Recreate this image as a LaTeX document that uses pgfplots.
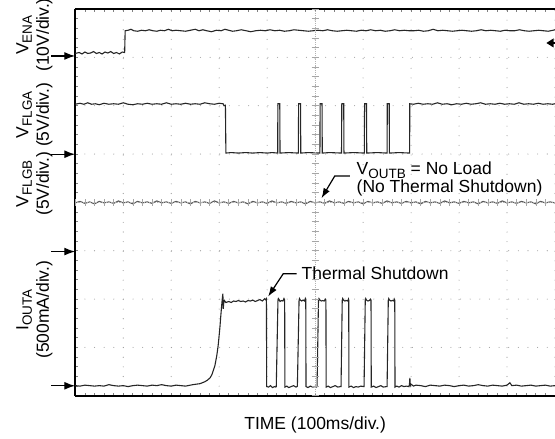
\documentclass[border=0pt]{standalone}
\usepackage{pgfplots}
\pgfplotsset{compat=1.18}
\usepackage{fontspec}
\setmainfont{Liberation Sans}
\usetikzlibrary{arrows.meta}
\newcommand{\sub}[1]{\raisebox{-0.19em}{\fontsize{13.5}{14}\selectfont #1}}

\begin{document}
\begin{tikzpicture}[x=1pt,y=1pt,font=\fontsize{17.5}{21}\selectfont]
\path[use as bounding box] (-75.3,-43) rectangle (480,396);
\begin{axis}[at={(0,0)}, anchor=south west, scale only axis,
  width=480pt, height=387pt,
  xmin=0, xmax=10, ymin=0, ymax=8,
  axis x line=box, axis y line=left,
  axis line style={line width=1.6pt,-},
  x axis line style={-}, y axis line style={-},
  xtick={0,...,10}, ytick={0,...,8},
  minor x tick num=4, minor y tick num=4,
  xticklabels={}, yticklabels={},
  tick align=inside, major tick length=3pt, minor tick length=3pt,
  tick style={gray, line width=0.7pt},
  grid=major,
  major grid style={line width=1.1pt, line cap=round, dash pattern=on 0pt off 9.6375pt, color=gray!75},
  clip=false]

% V_ENA
\addplot[black!85, line width=1.1pt] coordinates {
(0.00,7.08)(0.08,7.10)(0.14,7.07)(0.20,7.11)(0.26,7.08)(0.32,7.09)(0.38,7.12)(0.44,7.08)(0.50,7.10)(0.56,7.07)
(0.62,7.11)(0.68,7.09)(0.74,7.12)(0.80,7.08)(0.86,7.10)(0.92,7.07)(0.98,7.11)(1.03,7.10)(1.04,7.55)(1.10,7.56)
(1.16,7.58)(1.22,7.55)(1.30,7.54)(1.38,7.56)(1.46,7.55)(1.54,7.57)(1.62,7.55)(1.70,7.54)(1.78,7.56)(1.86,7.55)
(1.94,7.58)(2.02,7.55)(2.10,7.56)(2.20,7.55)(2.30,7.54)(2.40,7.56)(2.50,7.58)(2.58,7.55)(2.66,7.57)(2.74,7.55)
(2.84,7.53)(2.94,7.56)(3.04,7.55)(3.12,7.58)(3.20,7.56)(3.28,7.54)(3.36,7.55)(3.46,7.57)(3.56,7.55)(3.66,7.53)
(3.76,7.55)(3.86,7.56)(3.96,7.55)(4.06,7.57)(4.16,7.55)(4.26,7.56)(4.36,7.54)(4.46,7.55)(4.56,7.57)(4.66,7.56)
(4.76,7.55)(4.86,7.54)(4.96,7.55)(5.06,7.56)(5.16,7.55)(5.26,7.57)(5.36,7.55)(5.46,7.54)(5.56,7.55)(5.66,7.56)
(5.76,7.55)(5.86,7.54)(5.96,7.56)(6.06,7.55)(6.16,7.57)(6.26,7.55)(6.36,7.56)(6.46,7.54)(6.56,7.55)(6.66,7.57)
(6.76,7.55)(6.86,7.56)(6.96,7.55)(7.06,7.55)(7.16,7.56)(7.26,7.54)(7.36,7.55)(7.46,7.58)(7.56,7.55)(7.66,7.56)
(7.76,7.55)(7.86,7.54)(7.96,7.55)(8.06,7.56)(8.16,7.55)(8.26,7.54)(8.36,7.55)(8.46,7.57)(8.56,7.55)(8.66,7.56)
(8.76,7.55)(8.86,7.54)(8.96,7.56)(9.06,7.55)(9.16,7.55)(9.26,7.57)(9.36,7.55)(9.46,7.54)(9.56,7.55)(9.66,7.56)
(9.76,7.55)(9.86,7.54)(9.96,7.56)(10.0,7.57)
};

% V_FLGA
\addplot[black!85, line width=1.1pt] coordinates {
(0.00,6.03)(0.10,6.05)(0.18,6.03)(0.26,6.06)(0.34,6.03)(0.42,6.04)(0.50,6.02)(0.60,6.05)(0.70,6.03)(0.80,6.04)
(0.90,6.03)(1.00,6.06)(1.10,6.03)(1.20,6.02)(1.30,6.04)(1.40,6.03)(1.50,6.05)(1.60,6.03)(1.70,6.04)(1.80,6.03)
(1.90,6.06)(2.00,6.03)(2.10,6.04)(2.20,6.03)(2.30,6.05)(2.40,6.03)(2.50,6.04)(2.60,6.03)(2.70,6.06)(2.80,6.04)
(2.90,6.03)(3.00,6.05)(3.08,6.04)(3.10,6.00)(3.13,6.01)(3.14,5.02)(3.25,5.03)(3.40,5.02)(3.55,5.03)(3.70,5.02)
(3.85,5.03)(4.00,5.02)(4.10,5.03)(4.22,5.02)
(4.223,6.04)(4.263,6.04)(4.268,5.02)(4.45,5.03)(4.65,5.02)
(4.656,6.04)(4.696,6.04)(4.701,5.02)(4.85,5.03)(5.10,5.02)
(5.104,6.04)(5.144,6.04)(5.149,5.02)(5.30,5.03)(5.55,5.02)
(5.556,6.04)(5.596,6.04)(5.601,5.02)(5.80,5.03)(6.025,5.02)
(6.031,6.04)(6.071,6.04)(6.076,5.02)(6.30,5.03)(6.50,5.02)
(6.504,6.04)(6.544,6.04)(6.549,5.02)(6.75,5.03)(6.97,5.02)
(6.973,6.04)(7.05,6.03)(7.15,6.05)(7.25,6.03)(7.35,6.04)(7.45,6.03)(7.55,6.06)(7.65,6.03)(7.75,6.04)(7.85,6.02)
(7.95,6.04)(8.05,6.03)(8.15,6.05)(8.25,6.03)(8.35,6.04)(8.45,6.06)(8.55,6.03)(8.65,6.04)(8.75,6.03)(8.85,6.05)
(8.95,6.03)(9.05,6.04)(9.15,6.03)(9.25,6.06)(9.35,6.03)(9.45,6.04)(9.55,6.03)(9.65,6.05)(9.75,6.03)(9.85,6.04)
(9.95,6.03)(10.0,6.04)
};

% V_FLGB
\addplot[black!65, line width=1.1pt] coordinates {
(0.0,3.99)(0.1,4.02)(0.2,3.98)(0.3,4.01)(0.4,3.97)(0.5,4.02)(0.6,3.99)(0.7,4.01)(0.8,3.98)(0.9,4.03)
(1.0,3.99)(1.1,4.01)(1.2,3.97)(1.3,4.02)(1.4,3.99)(1.5,4.01)(1.6,3.98)(1.7,4.03)(1.8,3.99)(1.9,4.01)
(2.0,3.98)(2.1,4.02)(2.2,3.99)(2.3,4.01)(2.4,3.97)(2.5,4.02)(2.6,3.99)(2.7,4.01)(2.8,3.98)(2.9,4.03)
(3.0,3.99)(3.1,4.01)(3.2,3.98)(3.3,4.02)(3.4,3.99)(3.5,4.01)(3.6,3.97)(3.7,4.02)(3.8,3.99)(3.9,4.01)
(4.0,3.98)(4.1,4.03)(4.2,3.99)(4.3,4.01)(4.4,3.98)(4.5,4.02)(4.6,3.99)(4.7,4.01)(4.8,3.97)(4.9,4.02)
(5.0,3.99)(5.1,4.01)(5.2,3.98)(5.3,4.03)(5.4,3.99)(5.5,4.01)(5.6,3.98)(5.7,4.02)(5.8,3.99)(5.9,4.01)
(6.0,3.97)(6.1,4.02)(6.2,3.99)(6.3,4.01)(6.4,3.98)(6.5,4.03)(6.6,3.99)(6.7,4.01)(6.8,3.98)(6.9,4.02)
(7.0,3.99)(7.1,4.01)(7.2,3.97)(7.3,4.02)(7.4,3.99)(7.5,4.01)(7.6,3.98)(7.7,4.03)(7.8,3.99)(7.9,4.01)
(8.0,3.98)(8.1,4.02)(8.2,3.99)(8.3,4.01)(8.4,3.97)(8.5,4.02)(8.6,3.99)(8.7,4.01)(8.8,3.98)(8.9,4.03)
(9.0,3.99)(9.1,4.01)(9.2,3.98)(9.3,4.02)(9.4,3.99)(9.5,4.01)(9.6,3.97)(9.7,4.02)(9.8,3.99)(9.9,4.01)
(10.0,3.99)
};

% I_OUTA
\addplot[black!85, line width=1.1pt] coordinates {
(0.00,0.21)(0.10,0.20)(0.20,0.22)(0.30,0.21)(0.40,0.20)(0.50,0.21)(0.60,0.20)(0.70,0.23)(0.80,0.21)(0.90,0.20)
(1.00,0.21)(1.10,0.19)(1.20,0.21)(1.30,0.22)(1.40,0.21)(1.50,0.20)(1.60,0.22)(1.70,0.21)(1.80,0.23)(1.90,0.21)
(2.00,0.20)(2.10,0.22)(2.20,0.21)(2.30,0.20)(2.40,0.22)(2.45,0.23)(2.52,0.24)(2.60,0.25)(2.65,0.27)(2.70,0.29)
(2.75,0.32)(2.81,0.37)(2.85,0.44)(2.87,0.50)(2.91,0.62)(2.95,0.83)(2.98,1.05)(3.015,1.41)(3.035,1.67)(3.055,1.90)
(3.067,2.03)(3.077,2.11)(3.085,1.80)(3.095,1.92)(3.11,1.97)(3.14,1.93)(3.20,1.95)(3.25,1.93)(3.30,1.96)(3.35,1.95)
(3.40,1.97)(3.45,1.95)(3.50,1.96)(3.55,1.94)(3.60,1.97)(3.65,1.96)(3.70,1.98)(3.75,1.95)(3.80,1.97)(3.85,1.99)
(3.90,1.96)(3.95,2.01)(3.975,1.98)(3.985,2.00)(3.99,0.19)
(4.03,0.18)(4.07,0.21)(4.11,0.17)(4.15,0.19)(4.18,0.18)
(4.19,0.19)(4.225,1.96)(4.235,2.01)(4.25,1.99)(4.27,1.95)(4.30,1.97)(4.33,1.96)(4.35,2.01)(4.365,1.98)(4.37,0.18)
(4.41,0.20)(4.45,0.17)(4.50,0.19)(4.55,0.21)(4.60,0.18)(4.62,0.19)
(4.63,0.20)(4.665,1.97)(4.675,2.01)(4.69,1.98)(4.72,1.96)(4.75,1.98)(4.78,1.96)(4.795,2.01)(4.805,1.98)(4.81,0.19)
(4.85,0.17)(4.90,0.20)(4.95,0.18)(5.00,0.19)(5.03,0.18)
(5.04,0.19)(5.07,1.97)(5.08,2.01)(5.10,1.98)(5.13,1.96)(5.16,1.97)(5.19,1.96)(5.21,2.00)(5.225,1.98)(5.23,0.18)
(5.27,0.20)(5.32,0.17)(5.37,0.19)(5.42,0.21)(5.47,0.18)(5.53,0.19)
(5.54,0.19)(5.565,1.97)(5.575,2.01)(5.59,1.98)(5.62,1.96)(5.65,1.97)(5.68,1.96)(5.695,2.00)(5.70,1.98)(5.705,0.18)
(5.75,0.20)(5.80,0.17)(5.85,0.19)(5.90,0.18)(5.95,0.20)(6.01,0.19)
(6.02,0.19)(6.045,1.97)(6.055,2.01)(6.07,1.98)(6.10,1.96)(6.13,1.97)(6.155,2.00)(6.165,1.98)(6.17,0.18)
(6.22,0.20)(6.27,0.17)(6.32,0.19)(6.37,0.21)(6.42,0.18)(6.49,0.19)
(6.50,0.19)(6.525,1.97)(6.535,2.01)(6.55,1.98)(6.58,1.96)(6.61,1.97)(6.64,1.96)(6.65,2.00)(6.66,1.98)(6.665,0.18)
(6.70,0.20)(6.75,0.18)(6.80,0.21)(6.85,0.19)(6.90,0.20)(6.95,0.19)(6.965,0.22)(6.975,0.37)(6.985,0.21)(7.00,0.24)
(7.05,0.20)(7.10,0.22)(7.20,0.21)(7.30,0.19)(7.40,0.22)(7.50,0.21)(7.60,0.20)(7.70,0.22)(7.80,0.21)(7.90,0.19)
(8.00,0.21)(8.10,0.22)(8.20,0.20)(8.30,0.21)(8.40,0.23)(8.50,0.21)(8.60,0.20)(8.70,0.22)(8.80,0.21)(8.90,0.20)
(9.00,0.22)(9.06,0.27)(9.10,0.21)(9.20,0.22)(9.30,0.20)(9.40,0.21)(9.50,0.22)(9.60,0.20)(9.70,0.21)(9.80,0.22)
(9.90,0.20)(10.0,0.21)
};
\end{axis}

% centre ruler lines
\draw[gray!60, line width=0.5pt, dash pattern=on 0.8pt off 1.1pt] (240,0) -- (240,387);
\draw[gray!60, line width=0.5pt, dash pattern=on 0.8pt off 1.1pt] (0,193.5) -- (480,193.5);
\foreach \i in {0,...,40} {
  \draw[gray!70, line width=0.6pt] (236.5,\i*9.675) -- (243.5,\i*9.675);
}
\foreach \i in {0,...,50} {
  \draw[gray!70, line width=0.6pt] (\i*9.6,190) -- (\i*9.6,197);
}

% ground reference arrows
\foreach \yy in {340,241.7,144.3,10} {
  \draw[line width=1.4pt, -{Latex[length=11pt,width=8pt]}] (-24,\yy) -- (0,\yy);
}
% trigger marker on the right
\fill (471.4,353) -- (478.5,357.5) -- (478.5,348.5) -- cycle;
\draw[line width=1.2pt] (476,353) -- (480,353);

% channel labels
\node[rotate=90, anchor=base] at (-46.8,361) {V\sub{ENA}};
\node[rotate=90, anchor=base] at (-26.3,361) {(10V/div.)};
\node[rotate=90, anchor=base] at (-46.8,281) {V\sub{FLGA}};
\node[rotate=90, anchor=base] at (-26.3,281) {(5V/div.)};
\node[rotate=90, anchor=base] at (-46.8,212) {V\sub{FLGB}};
\node[rotate=90, anchor=base] at (-26.3,212) {(5V/div.)};
\node[rotate=90, anchor=base] at (-46.8,86) {I\sub{OUTA}};
\node[rotate=90, anchor=base] at (-26.3,86) {(500mA/div.)};

% x label
\node[anchor=base] at (240,-34) {TIME (100ms/div.)};

% annotations
\node[anchor=base west, inner sep=0pt] at (281.4,221) {V\sub{OUTB} = No Load};
\node[anchor=base west, inner sep=0pt] at (281.4,203.3) {(No Thermal Shutdown)};
\draw[line width=1.2pt, -{Latex[length=10pt,width=7pt]}] (274.7,220) -- (259.7,220) -- (246.4,197.7);

\node[anchor=base west, inner sep=0pt] at (226.4,116.7) {Thermal Shutdown};
\draw[line width=1.2pt, -{Latex[length=10pt,width=7pt]}] (221.4,122) -- (208,122) -- (193,99.3);
\end{tikzpicture}
\end{document}
